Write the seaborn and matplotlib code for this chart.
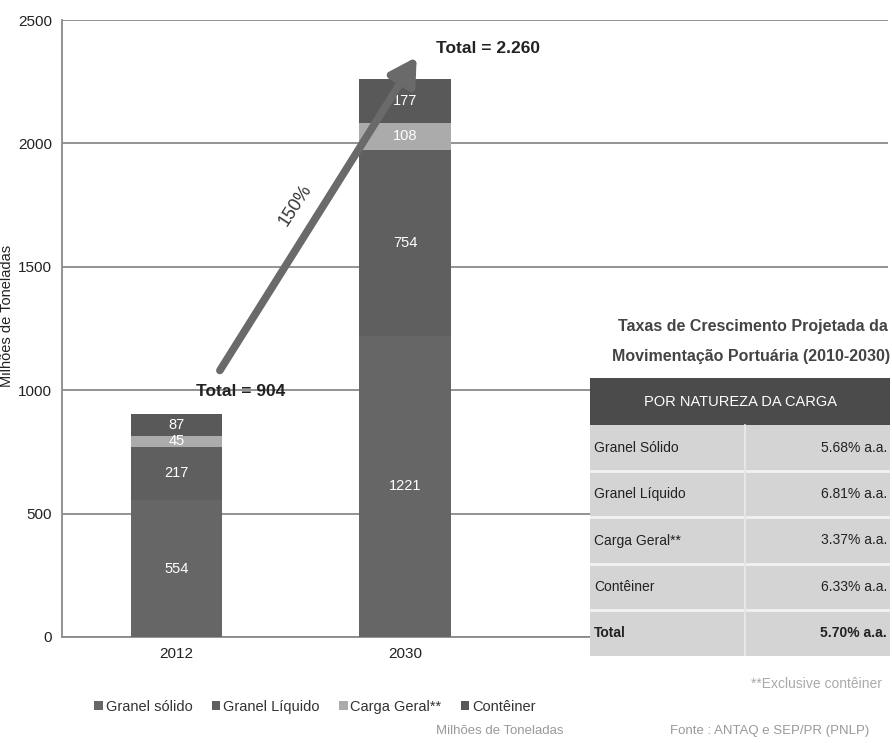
import matplotlib
matplotlib.use("Agg")
import matplotlib.pyplot as plt
import seaborn as sns
import numpy as np
import pandas as pd
from matplotlib.patches import Rectangle

# ---- data ----
years = ["2012", "2030"]
series_names = ["Granel sólido", "Granel Líquido", "Carga Geral**", "Contêiner"]
granel_solido = [554, 1221]
granel_liquido = [217, 754]
carga_geral = [45, 108]
conteiner = [87, 177]
totals_text = ["Total = 904", "Total = 2.260"]
totals_val = [904, 2260]
growth_label = "150%"
table_rows = ["Granel Sólido", "Granel Líquido", "Carga Geral**", "Contêiner", "Total"]
table_rates = ["5.68% a.a.", "6.81% a.a.", "3.37% a.a.", "6.33% a.a.", "5.70% a.a."]

colors = ["#666666", "#5f5f5f", "#ababab", "#595959"]

sns.set_theme(style="white")
plt.rcParams['font.family'] = ['Liberation Sans', 'DejaVu Sans']

fig = plt.figure(figsize=(8.92, 7.43), dpi=100)
ax = fig.add_axes([62/892, 1-637/743, (888-62)/892, (637-20)/743])

layers = [granel_solido, granel_liquido, carga_geral, conteiner]
cum = np.cumsum(np.array(layers), axis=0)
# draw from top layer down so each lower layer covers
for i in range(len(layers)-1, -1, -1):
    df = pd.DataFrame({"year": years, "value": cum[i]})
    sns.barplot(data=df, x="year", y="value", color=colors[i], width=0.4,
                saturation=1, ax=ax, zorder=3, label=series_names[i],
                edgecolor="none", linewidth=0)

handles, labels = ax.get_legend_handles_labels()
if ax.get_legend() is not None:
    ax.get_legend().remove()

# segment labels
for i, layer in enumerate(layers):
    base = cum[i] - np.array(layer)
    for j in range(len(years)):
        ax.text(j, base[j] + layer[j]/2, str(layer[j]), ha="center", va="center",
                color="white", fontsize=10.5, zorder=5)

ax.set_xlim(-0.5, 3.11)
ax.set_ylim(0, 2500)
ax.set_yticks([0, 500, 1000, 1500, 2000, 2500])
ax.yaxis.grid(True, color="#8a8a8a", linewidth=1.3, zorder=0)
ax.set_axisbelow(True)
for s in ["top", "right"]:
    ax.spines[s].set_visible(False)
ax.spines["left"].set_color("#8a8a8a")
ax.spines["bottom"].set_color("#8a8a8a")
ax.spines["left"].set_linewidth(1.3)
ax.spines["bottom"].set_linewidth(1.3)
ax.tick_params(axis="both", labelsize=11, colors="#222222", length=0, pad=7)
ax.set_xlabel("")
ax.set_ylabel("Milhões de Toneladas", fontsize=10.5, color="#222222")
ax.yaxis.set_label_coords(-0.058, 0.52)

# totals
ax.text(0.28, 995, totals_text[0], ha="center", va="center", fontsize=12.5,
        fontweight="bold", color="#222222", zorder=6)
ax.text(1.36, 2385, totals_text[1], ha="center", va="center", fontsize=12.5,
        fontweight="bold", color="#222222", zorder=6)

# arrow
ax.annotate("", xy=(1.05, 2350), xytext=(0.19, 1080),
            arrowprops=dict(arrowstyle="-|>,head_length=1.3,head_width=0.75",
                            color="#6a6a6a", lw=5.5, shrinkA=0, shrinkB=0), zorder=6)
ax.text(0.52, 1750, growth_label, rotation=57, ha="center", va="center",
        fontsize=13, color="#333333", zorder=6)

# legend
order = [labels.index(n) for n in series_names]
leg = fig.legend([handles[k] for k in order], [labels[k] for k in order],
                 loc="center", bbox_to_anchor=(315/892, 1-707/743), ncol=4,
                 frameon=False, fontsize=10.5, handlelength=0.6, handleheight=0.6,
                 handletextpad=0.2, columnspacing=1.3)
for t in leg.get_texts():
    t.set_color("#333333")

fig.text(500/892, 1-731/743, "Milhões de Toneladas", ha="center", va="center",
         fontsize=9.5, color="#999999")
fig.text(770/892, 1-731/743, "Fonte : ANTAQ e SEP/PR (PNLP)", ha="center", va="center",
         fontsize=9.5, color="#999999")
fig.text(882/892, 1-684/743, "**Exclusive contêiner", ha="right", va="center",
         fontsize=10, color="#aaaaaa")

# table title
fig.text(888/892, 1-326/743, "Taxas de Crescimento Projetada da", ha="right", va="center",
         fontsize=11.5, fontweight="bold", color="#444444")
fig.text(890/892, 1-357/743, "Movimentação Portuária (2010-2030)", ha="right", va="center",
         fontsize=11.5, fontweight="bold", color="#444444")

# table
tx0, tx1 = 590, 890
ty_top, ty_head, ty_bot = 378, 425, 656
tax = fig.add_axes([tx0/892, 1-ty_bot/743, (tx1-tx0)/892, (ty_bot-ty_top)/743])
tax.set_xlim(tx0, tx1)
tax.set_ylim(ty_bot, ty_top)
tax.axis("off")
tax.add_patch(Rectangle((tx0, ty_top), tx1-tx0, ty_head-ty_top, color="#4b4b4b"))
tax.text((tx0+tx1)/2, (ty_top+ty_head)/2, "POR NATUREZA DA CARGA", ha="center",
         va="center", color="white", fontsize=10.5)
nrow = len(table_rows)
rh = (ty_bot - ty_head) / nrow
for r in range(nrow):
    y0 = ty_head + r*rh
    tax.add_patch(Rectangle((tx0, y0), tx1-tx0, rh, facecolor="#d4d4d4", edgecolor="none"))
    if r > 0:
        tax.plot([tx0, tx1], [y0, y0], color="#f2f2f2", lw=2)
    bold = "bold" if table_rows[r] == "Total" else "normal"
    tax.text(tx0+4, y0+rh/2, table_rows[r], ha="left", va="center", fontsize=10,
             color="#222222", fontweight=bold)
    tax.text(tx1-3, y0+rh/2, table_rates[r], ha="right", va="center", fontsize=10,
             color="#222222", fontweight=bold)
tax.plot([745, 745], [ty_head, ty_bot], color="#e6e6e6", lw=1.5)

fig.savefig("out.png", dpi=100, facecolor="white")
